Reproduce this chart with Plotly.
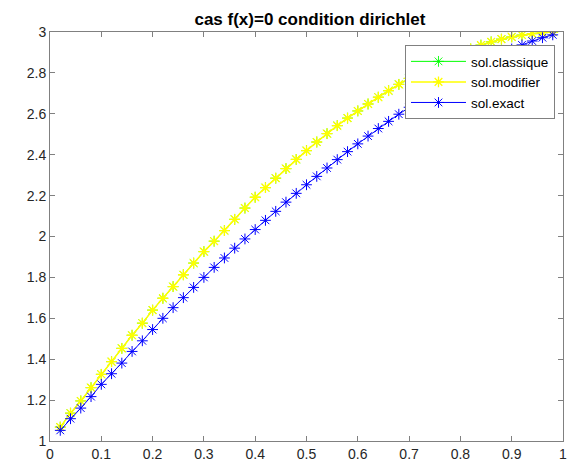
import plotly.graph_objects as go

x_vals = [round(0.02 * k, 2) for k in range(1, 50)]

sol_exact = [1.052, 1.109, 1.161, 1.217, 1.277, 1.329, 1.381, 1.438, 1.490, 1.545,
             1.600, 1.652, 1.701, 1.751, 1.800, 1.849, 1.895, 1.943, 1.988, 2.034,
             2.079, 2.123, 2.168, 2.211, 2.253, 2.294, 2.335, 2.376, 2.415, 2.453,
             2.491, 2.528, 2.563, 2.598, 2.632, 2.665, 2.697, 2.728, 2.758, 2.787,
             2.815, 2.842, 2.868, 2.893, 2.917, 2.937, 2.956, 2.972, 2.986]

sol_modifier = [1.068, 1.136, 1.196, 1.261, 1.326, 1.388, 1.453, 1.517, 1.576, 1.640,
                1.698, 1.755, 1.813, 1.870, 1.926, 1.977, 2.029, 2.084, 2.139, 2.192,
                2.239, 2.285, 2.332, 2.377, 2.420, 2.462, 2.503, 2.542, 2.579, 2.614,
                2.648, 2.681, 2.713, 2.744, 2.773, 2.800, 2.826, 2.850, 2.873, 2.896,
                2.917, 2.936, 2.952, 2.965, 2.976, 2.985, 2.992, 2.997, 3.000]

sol_classique = [1.068, 1.136, 1.196, 1.261, 1.326, 1.388, 1.453, 1.517, 1.576, 1.640,
                 1.698, 1.755, 1.813, 1.870, 1.926, 1.977, 2.029, 2.084, 2.139, 2.192,
                 2.239, 2.285, 2.332, 2.377, 2.420, 2.462, 2.503, 2.542, 2.579, 2.614,
                 2.648, 2.681, 2.713, 2.744, 2.773, 2.800, 2.826, 2.850, 2.873, 2.896,
                 2.917, 2.936, 2.952, 2.965, 2.976, 2.985, 2.992, 2.997, 3.000]

series = [
    ("sol.classique", sol_classique, "#00ff00", 1.0, 0.9),
    ("sol.modifier", sol_modifier, "#ffff00", 1.5, 1.3),
    ("sol.exact", sol_exact, "#0000ff", 1.0, 1.0),
]

x_ticks = [0, 0.1, 0.2, 0.3, 0.4, 0.5, 0.6, 0.7, 0.8, 0.9, 1]
y_ticks = [1, 1.2, 1.4, 1.6, 1.8, 2, 2.2, 2.4, 2.6, 2.8, 3]

FONT = "Liberation Sans, Arial, sans-serif"

fig = go.Figure()
for name, vals, color, w, mw in series:
    fig.add_trace(go.Scatter(
        x=x_vals, y=vals, name=name, mode="lines+markers",
        line=dict(color=color, width=w),
        marker=dict(symbol="asterisk-open", size=9, color=color,
                    line=dict(color=color, width=mw)),
    ))

axis_common = dict(
    showline=True, linecolor="#808080", linewidth=1, mirror="ticks",
    ticks="inside", ticklen=5, tickcolor="#808080", tickwidth=1,
    showgrid=False, zeroline=False,
    tickfont=dict(family=FONT, size=14, color="#262626"),
)

fig.update_layout(
    width=575, height=470,
    margin=dict(l=50, r=8, t=32, b=27),
    paper_bgcolor="white", plot_bgcolor="white",
    title=dict(text="<b>cas f(x)=0 condition dirichlet</b>", x=0.539, xanchor="center",
               y=0.9596, yanchor="middle",
               font=dict(family=FONT, size=17, color="#000000")),
    xaxis=dict(range=[0, 1], tickvals=x_ticks, ticktext=[str(t) for t in x_ticks], **axis_common),
    yaxis=dict(range=[1, 3], tickvals=y_ticks, ticktext=[str(t) for t in y_ticks], **axis_common),
    legend=dict(x=0.692, y=0.968, xanchor="left", yanchor="top",
                bgcolor="white", bordercolor="#808080", borderwidth=1,
                font=dict(family=FONT, size=13.5, color="#000000"),
                itemwidth=55, tracegroupgap=0),
    showlegend=True,
)

fig.write_html("out.html")
